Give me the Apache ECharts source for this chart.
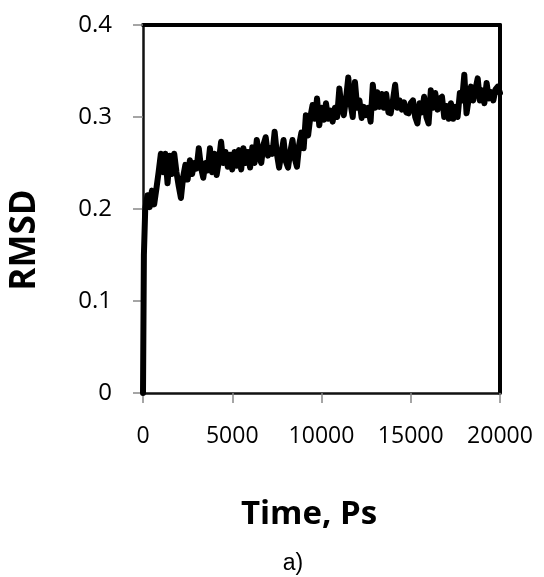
<!DOCTYPE html>
<html>
<head>
<meta charset="utf-8">
<script src="https://cdn.jsdelivr.net/npm/echarts@6/dist/echarts.min.js"></script>
<style>
  html, body { margin: 0; padding: 0; background: #fff; }
  #main { width: 544px; height: 577px; }
</style>
</head>
<body>
<div id="main"></div>
<script>
// RMSD trajectory (ps, nm)
var times = [0, 50, 125, 250, 375, 500, 625, 750, 875, 1000,
  1125, 1250, 1375, 1500, 1625, 1750, 1875, 2000, 2125, 2250,
  2375, 2500, 2625, 2750, 2875, 3000, 3125, 3250, 3375, 3500,
  3625, 3750, 3875, 4000, 4125, 4250, 4375, 4500, 4625, 4750,
  4875, 5000, 5125, 5250, 5375, 5500, 5625, 5750, 5875, 6000,
  6125, 6250, 6375, 6500, 6625, 6750, 6875, 7000, 7125, 7250,
  7375, 7500, 7625, 7750, 7875, 8000, 8125, 8250, 8375, 8500,
  8625, 8750, 8875, 9000, 9125, 9250, 9375, 9500, 9625, 9750,
  9875, 10000, 10125, 10250, 10375, 10500, 10625, 10750, 10875, 11000,
  11125, 11250, 11375, 11500, 11625, 11750, 11875, 12000, 12125, 12250,
  12375, 12500, 12625, 12750, 12875, 13000, 13125, 13250, 13375, 13500,
  13625, 13750, 13875, 14000, 14125, 14250, 14375, 14500, 14625, 14750,
  14875, 15000, 15125, 15250, 15375, 15500, 15625, 15750, 15875, 16000,
  16125, 16250, 16375, 16500, 16625, 16750, 16875, 17000, 17125, 17250,
  17375, 17500, 17625, 17750, 17875, 18000, 18125, 18250, 18375, 18500,
  18625, 18750, 18875, 19000, 19125, 19250, 19375, 19500, 19625, 19750,
  19875, 20000];
var rmsd = [0, 0.15, 0.2, 0.215, 0.202, 0.22, 0.205, 0.222, 0.24, 0.26,
  0.24, 0.26, 0.228, 0.258, 0.238, 0.26, 0.24, 0.225, 0.212, 0.235,
  0.248, 0.232, 0.253, 0.238, 0.25, 0.244, 0.266, 0.245, 0.234, 0.25,
  0.242, 0.266, 0.24, 0.26, 0.237, 0.252, 0.273, 0.25, 0.262, 0.246,
  0.259, 0.243, 0.262, 0.247, 0.264, 0.243, 0.266, 0.25, 0.262, 0.245,
  0.267, 0.25, 0.275, 0.258, 0.25, 0.27, 0.278, 0.258, 0.266, 0.26,
  0.284, 0.26, 0.245, 0.26, 0.275, 0.252, 0.245, 0.262, 0.275, 0.255,
  0.246, 0.27, 0.283, 0.266, 0.302, 0.28, 0.3, 0.313, 0.298, 0.32,
  0.291, 0.31, 0.297, 0.315, 0.298, 0.307, 0.295, 0.31, 0.3, 0.331,
  0.31, 0.302, 0.32, 0.343, 0.315, 0.3, 0.338, 0.31, 0.318, 0.299,
  0.311, 0.302, 0.31, 0.295, 0.335, 0.31, 0.327, 0.311, 0.325, 0.31,
  0.325, 0.305, 0.304, 0.318, 0.335, 0.31, 0.318, 0.308, 0.316, 0.305,
  0.304, 0.315, 0.318, 0.3, 0.293, 0.315, 0.305, 0.322, 0.3, 0.293,
  0.329, 0.31, 0.326, 0.308, 0.32, 0.322, 0.3, 0.312, 0.298, 0.315,
  0.298, 0.311, 0.3, 0.326, 0.318, 0.346, 0.304, 0.32, 0.333, 0.318,
  0.33, 0.342, 0.318, 0.329, 0.315, 0.337, 0.32, 0.327, 0.318, 0.33,
  0.333, 0.326];
var yTicks = [0, 0.1, 0.2, 0.3, 0.4];
var xTicks = [0, 5000, 10000, 15000, 20000];

var chartDom = document.getElementById('main');
var myChart = echarts.init(chartDom);
var option;

var font = '"Open Sans", sans-serif';
var plain = function (v) { return String(v); };

// frame on top / right, drawn as extra axes with no labels
var frame = { show: true, onZero: false, lineStyle: { color: '#000', width: 4 } };

option = {
  animation: false,
  backgroundColor: '#fff',
  grid: { left: 143, right: 44, top: 25, bottom: 184 },
  xAxis: [
    {
      type: 'value',
      min: xTicks[0],
      max: xTicks[xTicks.length - 1],
      interval: 5000,
      axisLine: { show: true, onZero: false, lineStyle: { color: '#111', width: 2.5 } },
      axisTick: { show: true, length: 10, lineStyle: { color: '#888', width: 1.5 } },
      axisLabel: { color: '#000', fontFamily: font, fontSize: 23, margin: 32, formatter: plain },
      splitLine: { show: false }
    },
    {
      type: 'value', position: 'top',
      min: xTicks[0], max: xTicks[xTicks.length - 1], interval: 5000,
      axisLine: frame, axisTick: { show: false }, axisLabel: { show: false }, splitLine: { show: false }
    }
  ],
  yAxis: [
    {
      type: 'value',
      min: yTicks[0],
      max: yTicks[yTicks.length - 1],
      interval: 0.1,
      axisLine: { show: true, onZero: false, lineStyle: { color: '#111', width: 2.5 } },
      axisTick: { show: true, length: 10, lineStyle: { color: '#888', width: 1.5 } },
      axisLabel: { color: '#000', fontFamily: font, fontSize: 24, margin: 31, formatter: plain },
      splitLine: { show: false }
    },
    {
      type: 'value', position: 'right',
      min: yTicks[0], max: yTicks[yTicks.length - 1], interval: 0.1,
      axisLine: frame, axisTick: { show: false }, axisLabel: { show: false }, splitLine: { show: false }
    }
  ],
  graphic: [
    {
      type: 'text',
      x: 309,
      y: 515,
      style: {
        text: 'Time, Ps', fill: '#000', font: 'bold 33px "Open Sans", sans-serif',
        align: 'center', verticalAlign: 'middle'
      }
    },
    {
      type: 'text',
      x: 25,
      y: 240,
      rotation: Math.PI / 2,
      style: {
        text: 'RMSD', fill: '#000', font: 'bold 35px "Open Sans", sans-serif',
        align: 'center', verticalAlign: 'middle'
      }
    },
    {
      type: 'text',
      x: 293,
      y: 564,
      style: {
        text: 'a)', fill: '#000', font: '23px "Liberation Sans", Arial, sans-serif',
        align: 'center', verticalAlign: 'middle'
      }
    }
  ],
  series: [
    {
      type: 'line',
      data: times.map(function (t, i) { return [t, rmsd[i]]; }),
      showSymbol: false,
      clip: false,
      lineStyle: { color: '#000', width: 6, join: 'round', cap: 'round' }
    }
  ]
};

option && myChart.setOption(option);
</script>
</body>
</html>
